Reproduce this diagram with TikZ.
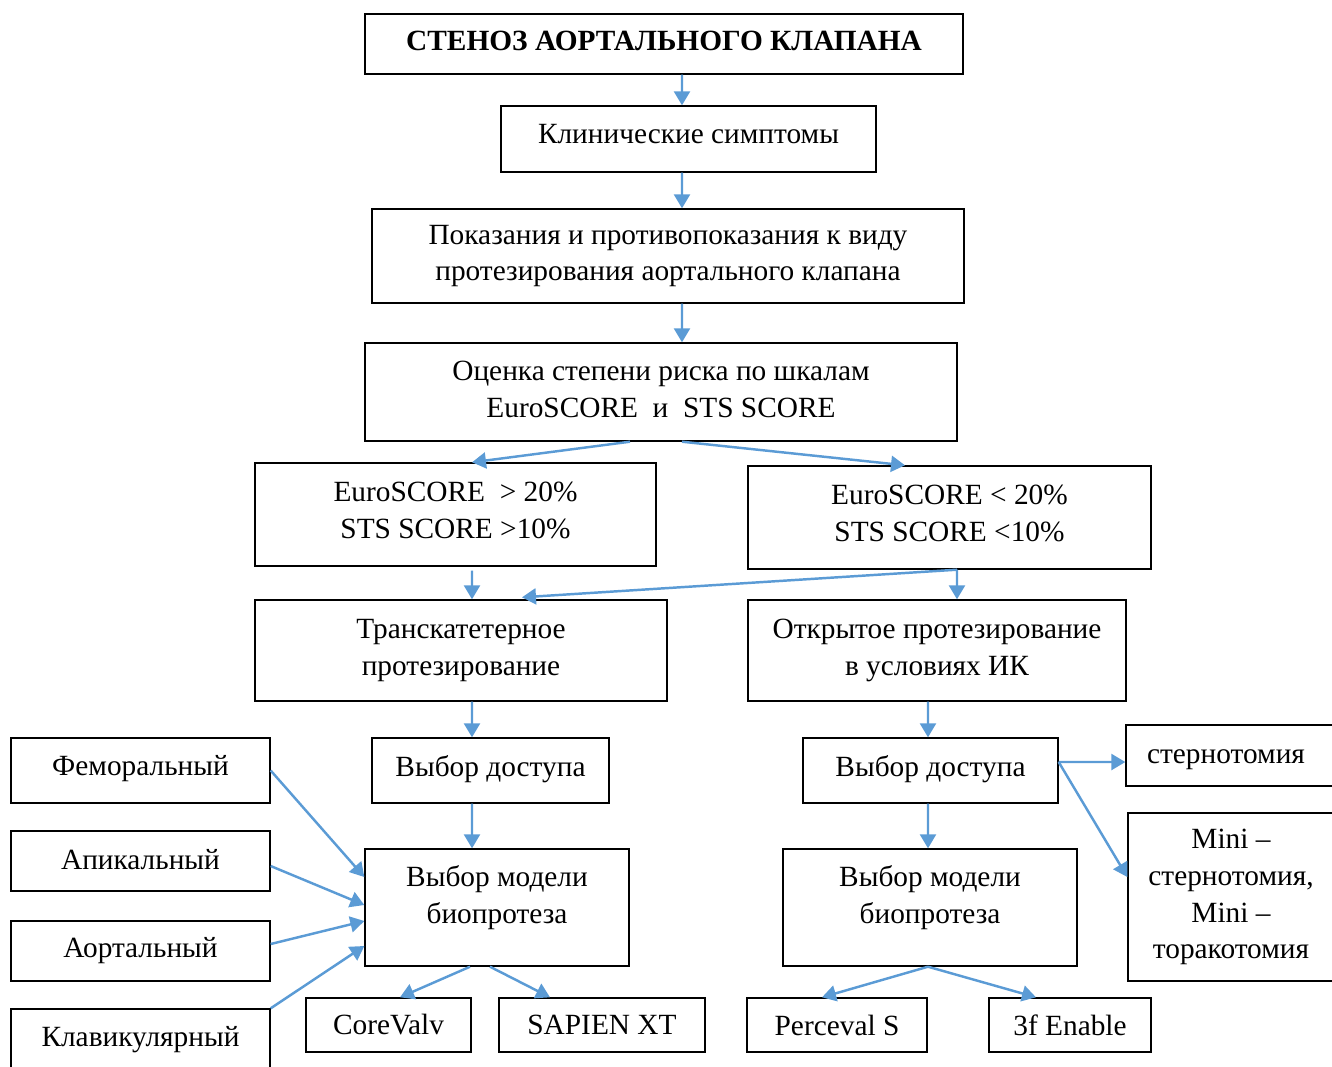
\documentclass[tikz,border=0pt]{standalone}
\usepackage{fontspec}
\setmainfont{Liberation Serif}
\usetikzlibrary{arrows.meta}
\definecolor{arrowblue}{RGB}{91,155,213}
\begin{document}
\begin{tikzpicture}[
        x=0.02cm, y=-0.02cm,
        box/.style={draw, line width=0.8pt, align=center, inner sep=0pt, font=\fontsize{16.7}{21}\selectfont},
        lift/.style={execute at end node={\rule[-#1]{0pt}{#1}}},
        arrow/.style={-{Triangle[length=0.28cm, width=0.32cm]}, line width=1.4pt, draw=arrowblue, fill=arrowblue}
    ]
        \useasboundingbox (0,0) rectangle (1332,1066);

        % Main chain
        \node[box, lift=0.12cm, minimum width=11.96cm, minimum height=1.2cm, font=\fontsize{16.7}{21}\selectfont\bfseries] (stenosis) at (664,44) {СТЕНОЗ АОРТАЛЬНОГО КЛАПАНА};
        \node[box, lift=0.2cm, minimum width=7.5cm, minimum height=1.32cm] (symptoms) at (688.5,139) {Клинические симптомы};
        \node[box, minimum width=11.84cm, minimum height=1.88cm] (indications) at (668,256) {Показания и противопоказания к виду\\протезирования аортального клапана};
        \node[box, lift=0.1cm, minimum width=11.84cm, minimum height=1.96cm] (risk) at (661,392) {Оценка степени риска по шкалам\\EuroSCORE ~и~ STS SCORE};

        % Risk groups
        \node[box, lift=0.16cm, minimum width=8.02cm, minimum height=2.06cm] (highrisk) at (455.5,514.5) {EuroSCORE ~> 20\%\\STS SCORE >10\%};
        \node[box, lift=0.16cm, minimum width=8.06cm, minimum height=2.06cm] (lowrisk) at (949.5,517.5) {EuroSCORE < 20\%\\STS SCORE <10\%};

        % Kinds of surgery
        \node[box, minimum width=8.24cm, minimum height=2.02cm] (transcath) at (461,650.5) {Транскатетерное\\протезирование};
        \node[box, minimum width=7.56cm, minimum height=2.02cm] (opensurg) at (937,650.5) {Открытое протезирование\\в условиях ИК};

        % Access and model
        \node[box, lift=0.2cm, minimum width=4.74cm, minimum height=1.3cm] (accessL) at (490.5,770.5) {Выбор доступа};
        \node[box, lift=0.2cm, minimum width=5.1cm, minimum height=1.3cm] (accessR) at (930.5,770.5) {Выбор доступа};
        \node[box, lift=0.53cm, minimum width=5.28cm, minimum height=2.34cm] (modelL) at (497,907.5) {Выбор модели\\биопротеза};
        \node[box, lift=0.53cm, minimum width=5.88cm, minimum height=2.34cm] (modelR) at (930,907.5) {Выбор модели\\биопротеза};

        % Transcatheter accesses
        \node[box, lift=0.2cm, minimum width=5.18cm, minimum height=1.3cm] (femoral) at (140.5,770.5) {Феморальный};
        \node[box, lift=0.08cm, minimum width=5.18cm, minimum height=1.2cm] (apical) at (140.5,861) {Апикальный};
        \node[box, minimum width=5.18cm, minimum height=1.2cm] (aortic) at (140.5,951) {Аортальный};
        \node[box, lift=0.29cm, minimum width=5.18cm, minimum height=1.4cm] (clavic) at (140.5,1044) {Клавикулярный};

        % Valve models
        \node[box, minimum width=3.3cm, minimum height=1.08cm] (corevalv) at (388.5,1025) {CoreValv};
        \node[box, minimum width=4.12cm, minimum height=1.08cm] (sapien) at (602,1025) {SAPIEN XT};
        \node[box, minimum width=3.6cm, minimum height=1.08cm] (perceval) at (837,1025) {Perceval S};
        \node[box, minimum width=3.24cm, minimum height=1.08cm] (enable) at (1070,1025) {3f Enable};

        % Open accesses
        \node[box, minimum width=4.28cm, minimum height=1.22cm] (sternot) at (1233,755.5) {\rule{0pt}{0.43cm}стернотомия\hspace*{0.28cm}};
        \node[box, minimum width=4.12cm, minimum height=3.36cm] (mini) at (1231,897) {Mini –\\стернотомия,\\Mini –\\торакотомия};

        % Arrows
        \draw[arrow] ([xshift=0.36cm]stenosis.south) -- ([xshift=-0.13cm]symptoms.north);
        \draw[arrow] ([xshift=-0.13cm]symptoms.south) -- ([xshift=0.28cm]indications.north);
        \draw[arrow] ([xshift=0.28cm]indications.south) -- ([xshift=0.42cm]risk.north);
        \draw[arrow] ([xshift=-0.62cm]risk.south) -- ([xshift=0.33cm]highrisk.north);
        \draw[arrow] ([xshift=0.42cm]risk.south) -- ([xshift=-0.89cm]lowrisk.north);
        \draw[arrow] ([xshift=0.33cm, yshift=-0.08cm]highrisk.south) -- ([xshift=0.22cm]transcath.north);
        \draw[arrow] ([xshift=0.15cm]lowrisk.south) -- ([xshift=0.4cm]opensurg.north);
        \draw[arrow] ([xshift=0.15cm]lowrisk.south) -- ([xshift=1.22cm, yshift=0.04cm]transcath.north);
        \draw[arrow] ([xshift=0.22cm]transcath.south) -- ([xshift=-0.37cm]accessL.north);
        \draw[arrow] ([xshift=-0.18cm]opensurg.south) -- ([xshift=-0.05cm]accessR.north);
        \draw[arrow] ([xshift=-0.37cm]accessL.south) -- ([xshift=-0.5cm]modelL.north);
        \draw[arrow] ([xshift=-0.05cm]accessR.south) -- ([xshift=-0.04cm]modelR.north);
        \draw[arrow] (femoral.east) -- ([yshift=0.61cm]modelL.west);
        \draw[arrow] ([yshift=-0.1cm]apical.east) -- ([yshift=0.05cm]modelL.west);
        \draw[arrow] ([yshift=0.14cm]aortic.east) -- ([yshift=-0.27cm]modelL.west);
        \draw[arrow] (clavic.north east) -- ([yshift=-0.77cm]modelL.west);
        \draw[arrow] ([xshift=-0.54cm]modelL.south) -- ([xshift=0.23cm]corevalv.north);
        \draw[arrow] ([xshift=-0.14cm]modelL.south) -- ([xshift=-1.04cm]sapien.north);
        \draw[arrow] ([xshift=-0.04cm]modelR.south) -- ([xshift=-0.3cm]perceval.north);
        \draw[arrow] ([xshift=-0.04cm]modelR.south) -- ([xshift=-0.68cm]enable.north);
        \draw[arrow] ([yshift=0.17cm]accessR.east) -- ([yshift=-0.13cm]sternot.west);
        \draw[arrow] ([yshift=0.17cm]accessR.east) -- ([yshift=0.4cm]mini.west);
    \end{tikzpicture}
\end{document}
